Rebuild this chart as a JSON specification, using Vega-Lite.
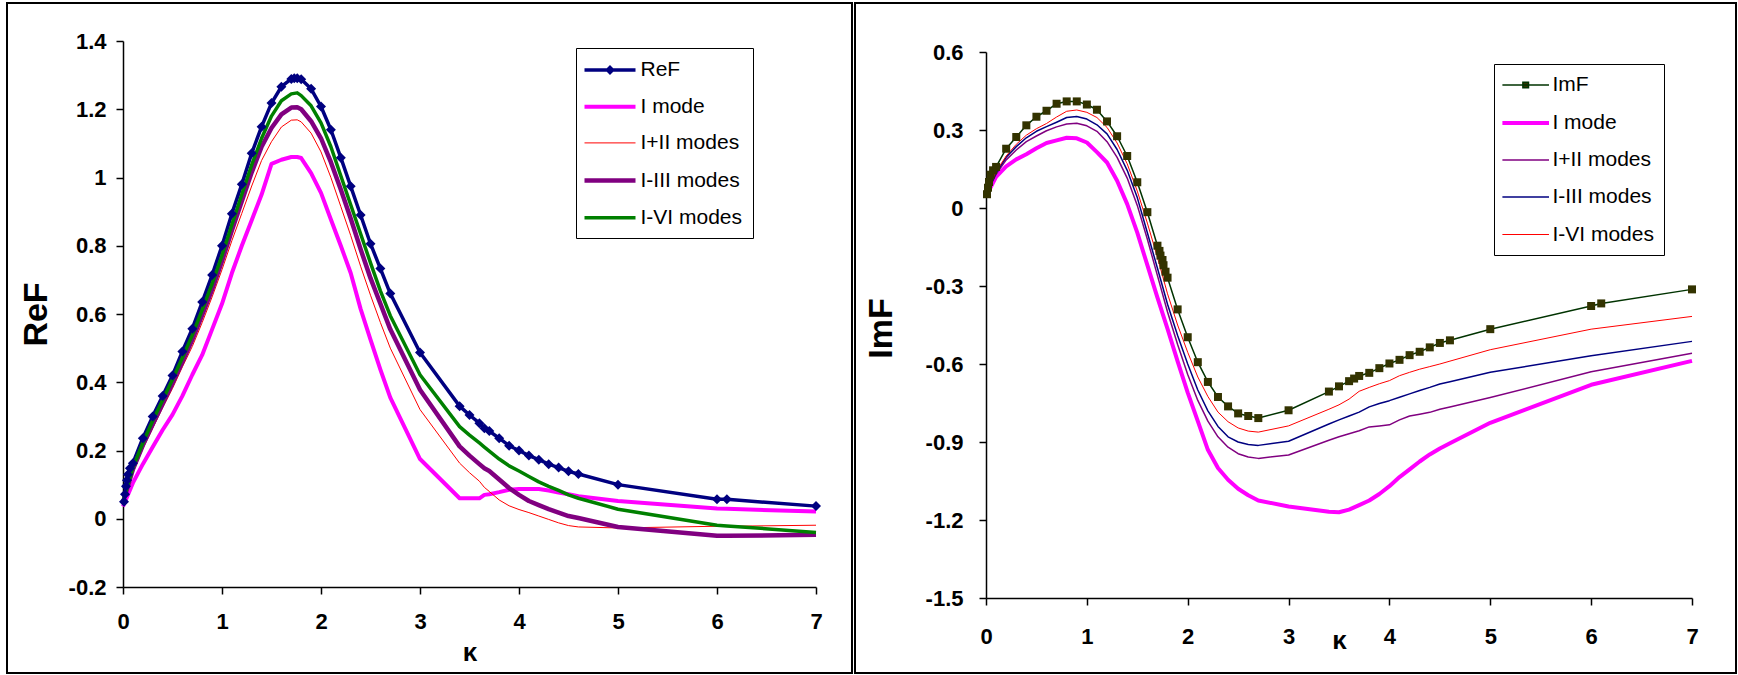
{
  "$schema": "https://vega.github.io/schema/vega-lite/v6.json",
  "background": "white",
  "padding": {"left": 6, "top": 2, "right": 1, "bottom": 1},
  "spacing": 1,
  "datasets": {
    "re": [
      {"s":"ReF","k":0.01,"v":0.05},{"s":"ReF","k":0.02,"v":0.072},{"s":"ReF","k":0.03,"v":0.095},{"s":"ReF","k":0.04,"v":0.113},{"s":"ReF","k":0.05,"v":0.13},{"s":"ReF","k":0.07,"v":0.148},{"s":"ReF","k":0.1,"v":0.163},{"s":"ReF","k":0.2,"v":0.236},{"s":"ReF","k":0.3,"v":0.3},{"s":"ReF","k":0.4,"v":0.36},{"s":"ReF","k":0.5,"v":0.42},{"s":"ReF","k":0.6,"v":0.49},{"s":"ReF","k":0.7,"v":0.557},{"s":"ReF","k":0.8,"v":0.635},{"s":"ReF","k":0.9,"v":0.714},{"s":"ReF","k":1,"v":0.8},{"s":"ReF","k":1.1,"v":0.894},{"s":"ReF","k":1.2,"v":0.98},{"s":"ReF","k":1.3,"v":1.071},{"s":"ReF","k":1.4,"v":1.149},{"s":"ReF","k":1.5,"v":1.218},{"s":"ReF","k":1.6,"v":1.266},{"s":"ReF","k":1.7,"v":1.289},{"s":"ReF","k":1.73,"v":1.291},{"s":"ReF","k":1.76,"v":1.291},{"s":"ReF","k":1.8,"v":1.288},{"s":"ReF","k":1.9,"v":1.26},{"s":"ReF","k":2,"v":1.208},{"s":"ReF","k":2.1,"v":1.14},{"s":"ReF","k":2.2,"v":1.058},{"s":"ReF","k":2.3,"v":0.974},{"s":"ReF","k":2.4,"v":0.89},{"s":"ReF","k":2.5,"v":0.806},{"s":"ReF","k":2.6,"v":0.733},{"s":"ReF","k":2.7,"v":0.66},{"s":"ReF","k":3,"v":0.487},{"s":"ReF","k":3.4,"v":0.33},{"s":"ReF","k":3.5,"v":0.304},{"s":"ReF","k":3.6,"v":0.28},{"s":"ReF","k":3.65,"v":0.265},{"s":"ReF","k":3.7,"v":0.257},{"s":"ReF","k":3.8,"v":0.236},{"s":"ReF","k":3.9,"v":0.214},{"s":"ReF","k":4,"v":0.2},{"s":"ReF","k":4.1,"v":0.185},{"s":"ReF","k":4.2,"v":0.173},{"s":"ReF","k":4.3,"v":0.16},{"s":"ReF","k":4.4,"v":0.15},{"s":"ReF","k":4.5,"v":0.139},{"s":"ReF","k":4.6,"v":0.131},{"s":"ReF","k":5,"v":0.1},{"s":"ReF","k":6,"v":0.057},{"s":"ReF","k":6.1,"v":0.057},{"s":"ReF","k":7,"v":0.037},
      {"s":"I mode","k":0,"v":0.036},{"s":"I mode","k":0.1,"v":0.105},{"s":"I mode","k":0.2,"v":0.16},{"s":"I mode","k":0.3,"v":0.21},{"s":"I mode","k":0.4,"v":0.26},{"s":"I mode","k":0.5,"v":0.305},{"s":"I mode","k":0.6,"v":0.36},{"s":"I mode","k":0.7,"v":0.422},{"s":"I mode","k":0.8,"v":0.48},{"s":"I mode","k":0.9,"v":0.555},{"s":"I mode","k":1,"v":0.63},{"s":"I mode","k":1.1,"v":0.72},{"s":"I mode","k":1.2,"v":0.8},{"s":"I mode","k":1.3,"v":0.875},{"s":"I mode","k":1.4,"v":0.95},{"s":"I mode","k":1.5,"v":1.04},{"s":"I mode","k":1.6,"v":1.052},{"s":"I mode","k":1.7,"v":1.06},{"s":"I mode","k":1.76,"v":1.06},{"s":"I mode","k":1.8,"v":1.057},{"s":"I mode","k":1.9,"v":1.013},{"s":"I mode","k":2,"v":0.955},{"s":"I mode","k":2.1,"v":0.877},{"s":"I mode","k":2.2,"v":0.8},{"s":"I mode","k":2.3,"v":0.72},{"s":"I mode","k":2.4,"v":0.615},{"s":"I mode","k":2.5,"v":0.525},{"s":"I mode","k":2.6,"v":0.437},{"s":"I mode","k":2.7,"v":0.355},{"s":"I mode","k":3,"v":0.175},{"s":"I mode","k":3.4,"v":0.06},{"s":"I mode","k":3.5,"v":0.06},{"s":"I mode","k":3.6,"v":0.06},{"s":"I mode","k":3.65,"v":0.07},{"s":"I mode","k":3.7,"v":0.072},{"s":"I mode","k":3.8,"v":0.078},{"s":"I mode","k":3.9,"v":0.085},{"s":"I mode","k":4,"v":0.087},{"s":"I mode","k":4.1,"v":0.087},{"s":"I mode","k":4.2,"v":0.087},{"s":"I mode","k":4.3,"v":0.083},{"s":"I mode","k":4.4,"v":0.077},{"s":"I mode","k":4.5,"v":0.072},{"s":"I mode","k":4.6,"v":0.066},{"s":"I mode","k":5,"v":0.052},{"s":"I mode","k":6,"v":0.03},{"s":"I mode","k":6.1,"v":0.029},{"s":"I mode","k":7,"v":0.021},
      {"s":"I+II modes","k":0,"v":0.042},{"s":"I+II modes","k":0.1,"v":0.135},{"s":"I+II modes","k":0.2,"v":0.205},{"s":"I+II modes","k":0.3,"v":0.265},{"s":"I+II modes","k":0.4,"v":0.325},{"s":"I+II modes","k":0.5,"v":0.382},{"s":"I+II modes","k":0.6,"v":0.445},{"s":"I+II modes","k":0.7,"v":0.505},{"s":"I+II modes","k":0.8,"v":0.575},{"s":"I+II modes","k":0.9,"v":0.65},{"s":"I+II modes","k":1,"v":0.73},{"s":"I+II modes","k":1.1,"v":0.815},{"s":"I+II modes","k":1.2,"v":0.895},{"s":"I+II modes","k":1.3,"v":0.975},{"s":"I+II modes","k":1.4,"v":1.05},{"s":"I+II modes","k":1.5,"v":1.105},{"s":"I+II modes","k":1.6,"v":1.148},{"s":"I+II modes","k":1.7,"v":1.168},{"s":"I+II modes","k":1.76,"v":1.169},{"s":"I+II modes","k":1.8,"v":1.163},{"s":"I+II modes","k":1.9,"v":1.13},{"s":"I+II modes","k":2,"v":1.075},{"s":"I+II modes","k":2.1,"v":1.0},{"s":"I+II modes","k":2.2,"v":0.915},{"s":"I+II modes","k":2.3,"v":0.83},{"s":"I+II modes","k":2.4,"v":0.74},{"s":"I+II modes","k":2.5,"v":0.655},{"s":"I+II modes","k":2.6,"v":0.575},{"s":"I+II modes","k":2.7,"v":0.5},{"s":"I+II modes","k":3,"v":0.32},{"s":"I+II modes","k":3.4,"v":0.163},{"s":"I+II modes","k":3.5,"v":0.135},{"s":"I+II modes","k":3.6,"v":0.11},{"s":"I+II modes","k":3.65,"v":0.092},{"s":"I+II modes","k":3.7,"v":0.08},{"s":"I+II modes","k":3.8,"v":0.055},{"s":"I+II modes","k":3.9,"v":0.038},{"s":"I+II modes","k":4,"v":0.027},{"s":"I+II modes","k":4.1,"v":0.018},{"s":"I+II modes","k":4.2,"v":0.008},{"s":"I+II modes","k":4.3,"v":-0.002},{"s":"I+II modes","k":4.4,"v":-0.012},{"s":"I+II modes","k":4.5,"v":-0.02},{"s":"I+II modes","k":4.6,"v":-0.024},{"s":"I+II modes","k":5,"v":-0.027},{"s":"I+II modes","k":6,"v":-0.022},{"s":"I+II modes","k":6.1,"v":-0.022},{"s":"I+II modes","k":7,"v":-0.019},
      {"s":"I-III modes","k":0,"v":0.048},{"s":"I-III modes","k":0.1,"v":0.145},{"s":"I-III modes","k":0.2,"v":0.215},{"s":"I-III modes","k":0.3,"v":0.277},{"s":"I-III modes","k":0.4,"v":0.337},{"s":"I-III modes","k":0.5,"v":0.397},{"s":"I-III modes","k":0.6,"v":0.46},{"s":"I-III modes","k":0.7,"v":0.525},{"s":"I-III modes","k":0.8,"v":0.597},{"s":"I-III modes","k":0.9,"v":0.672},{"s":"I-III modes","k":1,"v":0.755},{"s":"I-III modes","k":1.1,"v":0.845},{"s":"I-III modes","k":1.2,"v":0.93},{"s":"I-III modes","k":1.3,"v":1.015},{"s":"I-III modes","k":1.4,"v":1.09},{"s":"I-III modes","k":1.5,"v":1.145},{"s":"I-III modes","k":1.6,"v":1.185},{"s":"I-III modes","k":1.7,"v":1.205},{"s":"I-III modes","k":1.76,"v":1.206},{"s":"I-III modes","k":1.8,"v":1.2},{"s":"I-III modes","k":1.9,"v":1.165},{"s":"I-III modes","k":2,"v":1.115},{"s":"I-III modes","k":2.1,"v":1.045},{"s":"I-III modes","k":2.2,"v":0.965},{"s":"I-III modes","k":2.3,"v":0.88},{"s":"I-III modes","k":2.4,"v":0.79},{"s":"I-III modes","k":2.5,"v":0.705},{"s":"I-III modes","k":2.6,"v":0.63},{"s":"I-III modes","k":2.7,"v":0.555},{"s":"I-III modes","k":3,"v":0.378},{"s":"I-III modes","k":3.4,"v":0.212},{"s":"I-III modes","k":3.5,"v":0.185},{"s":"I-III modes","k":3.6,"v":0.16},{"s":"I-III modes","k":3.65,"v":0.148},{"s":"I-III modes","k":3.7,"v":0.14},{"s":"I-III modes","k":3.8,"v":0.115},{"s":"I-III modes","k":3.9,"v":0.09},{"s":"I-III modes","k":4,"v":0.07},{"s":"I-III modes","k":4.1,"v":0.052},{"s":"I-III modes","k":4.2,"v":0.04},{"s":"I-III modes","k":4.3,"v":0.028},{"s":"I-III modes","k":4.4,"v":0.018},{"s":"I-III modes","k":4.5,"v":0.008},{"s":"I-III modes","k":4.6,"v":0.002},{"s":"I-III modes","k":5,"v":-0.024},{"s":"I-III modes","k":6,"v":-0.05},{"s":"I-III modes","k":6.1,"v":-0.05},{"s":"I-III modes","k":7,"v":-0.047},
      {"s":"I-VI modes","k":0,"v":0.05},{"s":"I-VI modes","k":0.1,"v":0.15},{"s":"I-VI modes","k":0.2,"v":0.222},{"s":"I-VI modes","k":0.3,"v":0.287},{"s":"I-VI modes","k":0.4,"v":0.347},{"s":"I-VI modes","k":0.5,"v":0.408},{"s":"I-VI modes","k":0.6,"v":0.472},{"s":"I-VI modes","k":0.7,"v":0.538},{"s":"I-VI modes","k":0.8,"v":0.612},{"s":"I-VI modes","k":0.9,"v":0.688},{"s":"I-VI modes","k":1,"v":0.772},{"s":"I-VI modes","k":1.1,"v":0.862},{"s":"I-VI modes","k":1.2,"v":0.95},{"s":"I-VI modes","k":1.3,"v":1.037},{"s":"I-VI modes","k":1.4,"v":1.115},{"s":"I-VI modes","k":1.5,"v":1.18},{"s":"I-VI modes","k":1.6,"v":1.225},{"s":"I-VI modes","k":1.7,"v":1.245},{"s":"I-VI modes","k":1.76,"v":1.248},{"s":"I-VI modes","k":1.8,"v":1.24},{"s":"I-VI modes","k":1.9,"v":1.21},{"s":"I-VI modes","k":2,"v":1.16},{"s":"I-VI modes","k":2.1,"v":1.09},{"s":"I-VI modes","k":2.2,"v":1.005},{"s":"I-VI modes","k":2.3,"v":0.92},{"s":"I-VI modes","k":2.4,"v":0.835},{"s":"I-VI modes","k":2.5,"v":0.75},{"s":"I-VI modes","k":2.6,"v":0.668},{"s":"I-VI modes","k":2.7,"v":0.595},{"s":"I-VI modes","k":3,"v":0.422},{"s":"I-VI modes","k":3.4,"v":0.27},{"s":"I-VI modes","k":3.5,"v":0.245},{"s":"I-VI modes","k":3.6,"v":0.222},{"s":"I-VI modes","k":3.65,"v":0.21},{"s":"I-VI modes","k":3.7,"v":0.198},{"s":"I-VI modes","k":3.8,"v":0.175},{"s":"I-VI modes","k":3.9,"v":0.155},{"s":"I-VI modes","k":4,"v":0.14},{"s":"I-VI modes","k":4.1,"v":0.124},{"s":"I-VI modes","k":4.2,"v":0.108},{"s":"I-VI modes","k":4.3,"v":0.095},{"s":"I-VI modes","k":4.4,"v":0.083},{"s":"I-VI modes","k":4.5,"v":0.07},{"s":"I-VI modes","k":4.6,"v":0.06},{"s":"I-VI modes","k":5,"v":0.028},{"s":"I-VI modes","k":6,"v":-0.019},{"s":"I-VI modes","k":6.1,"v":-0.021},{"s":"I-VI modes","k":7,"v":-0.04}
    ],
    "im": [
      {"s":"ImF","k":0.01,"v":0.053},{"s":"ImF","k":0.02,"v":0.078},{"s":"ImF","k":0.03,"v":0.1},{"s":"ImF","k":0.045,"v":0.128},{"s":"ImF","k":0.07,"v":0.145},{"s":"ImF","k":0.1,"v":0.158},{"s":"ImF","k":0.2,"v":0.228},{"s":"ImF","k":0.3,"v":0.273},{"s":"ImF","k":0.4,"v":0.318},{"s":"ImF","k":0.5,"v":0.351},{"s":"ImF","k":0.6,"v":0.374},{"s":"ImF","k":0.7,"v":0.401},{"s":"ImF","k":0.8,"v":0.41},{"s":"ImF","k":0.9,"v":0.41},{"s":"ImF","k":1,"v":0.398},{"s":"ImF","k":1.1,"v":0.378},{"s":"ImF","k":1.2,"v":0.333},{"s":"ImF","k":1.3,"v":0.276},{"s":"ImF","k":1.4,"v":0.2},{"s":"ImF","k":1.5,"v":0.099},{"s":"ImF","k":1.6,"v":-0.016},{"s":"ImF","k":1.7,"v":-0.145},{"s":"ImF","k":1.72,"v":-0.165},{"s":"ImF","k":1.73,"v":-0.183},{"s":"ImF","k":1.75,"v":-0.2},{"s":"ImF","k":1.76,"v":-0.22},{"s":"ImF","k":1.78,"v":-0.245},{"s":"ImF","k":1.8,"v":-0.268},{"s":"ImF","k":1.9,"v":-0.39},{"s":"ImF","k":2,"v":-0.497},{"s":"ImF","k":2.1,"v":-0.593},{"s":"ImF","k":2.2,"v":-0.669},{"s":"ImF","k":2.3,"v":-0.727},{"s":"ImF","k":2.4,"v":-0.763},{"s":"ImF","k":2.5,"v":-0.79},{"s":"ImF","k":2.6,"v":-0.8},{"s":"ImF","k":2.7,"v":-0.808},{"s":"ImF","k":3,"v":-0.778},{"s":"ImF","k":3.4,"v":-0.706},{"s":"ImF","k":3.5,"v":-0.686},{"s":"ImF","k":3.6,"v":-0.666},{"s":"ImF","k":3.65,"v":-0.656},{"s":"ImF","k":3.7,"v":-0.646},{"s":"ImF","k":3.8,"v":-0.634},{"s":"ImF","k":3.9,"v":-0.616},{"s":"ImF","k":4,"v":-0.598},{"s":"ImF","k":4.1,"v":-0.584},{"s":"ImF","k":4.2,"v":-0.566},{"s":"ImF","k":4.3,"v":-0.553},{"s":"ImF","k":4.4,"v":-0.536},{"s":"ImF","k":4.5,"v":-0.519},{"s":"ImF","k":4.6,"v":-0.509},{"s":"ImF","k":5,"v":-0.466},{"s":"ImF","k":6,"v":-0.377},{"s":"ImF","k":6.1,"v":-0.367},{"s":"ImF","k":7,"v":-0.313},
      {"s":"I mode","k":0,"v":0.045},{"s":"I mode","k":0.1,"v":0.12},{"s":"I mode","k":0.2,"v":0.16},{"s":"I mode","k":0.3,"v":0.187},{"s":"I mode","k":0.4,"v":0.207},{"s":"I mode","k":0.5,"v":0.23},{"s":"I mode","k":0.6,"v":0.25},{"s":"I mode","k":0.7,"v":0.26},{"s":"I mode","k":0.8,"v":0.27},{"s":"I mode","k":0.9,"v":0.268},{"s":"I mode","k":1,"v":0.252},{"s":"I mode","k":1.1,"v":0.215},{"s":"I mode","k":1.2,"v":0.175},{"s":"I mode","k":1.3,"v":0.105},{"s":"I mode","k":1.4,"v":0.015},{"s":"I mode","k":1.5,"v":-0.095},{"s":"I mode","k":1.6,"v":-0.22},{"s":"I mode","k":1.7,"v":-0.345},{"s":"I mode","k":1.8,"v":-0.465},{"s":"I mode","k":1.9,"v":-0.59},{"s":"I mode","k":2,"v":-0.71},{"s":"I mode","k":2.1,"v":-0.82},{"s":"I mode","k":2.2,"v":-0.93},{"s":"I mode","k":2.3,"v":-1.0},{"s":"I mode","k":2.4,"v":-1.045},{"s":"I mode","k":2.5,"v":-1.08},{"s":"I mode","k":2.6,"v":-1.105},{"s":"I mode","k":2.7,"v":-1.125},{"s":"I mode","k":3,"v":-1.148},{"s":"I mode","k":3.4,"v":-1.168},{"s":"I mode","k":3.5,"v":-1.17},{"s":"I mode","k":3.6,"v":-1.16},{"s":"I mode","k":3.7,"v":-1.143},{"s":"I mode","k":3.8,"v":-1.125},{"s":"I mode","k":3.9,"v":-1.1},{"s":"I mode","k":4,"v":-1.07},{"s":"I mode","k":4.1,"v":-1.035},{"s":"I mode","k":4.2,"v":-1.005},{"s":"I mode","k":4.3,"v":-0.975},{"s":"I mode","k":4.4,"v":-0.948},{"s":"I mode","k":4.5,"v":-0.925},{"s":"I mode","k":4.6,"v":-0.905},{"s":"I mode","k":5,"v":-0.826},{"s":"I mode","k":6,"v":-0.68},{"s":"I mode","k":7,"v":-0.588},
      {"s":"I+II modes","k":0,"v":0.05},{"s":"I+II modes","k":0.1,"v":0.13},{"s":"I+II modes","k":0.2,"v":0.185},{"s":"I+II modes","k":0.3,"v":0.223},{"s":"I+II modes","k":0.4,"v":0.255},{"s":"I+II modes","k":0.5,"v":0.277},{"s":"I+II modes","k":0.6,"v":0.297},{"s":"I+II modes","k":0.7,"v":0.312},{"s":"I+II modes","k":0.8,"v":0.323},{"s":"I+II modes","k":0.9,"v":0.326},{"s":"I+II modes","k":1,"v":0.316},{"s":"I+II modes","k":1.1,"v":0.295},{"s":"I+II modes","k":1.2,"v":0.255},{"s":"I+II modes","k":1.3,"v":0.195},{"s":"I+II modes","k":1.4,"v":0.115},{"s":"I+II modes","k":1.5,"v":0.01},{"s":"I+II modes","k":1.6,"v":-0.12},{"s":"I+II modes","k":1.7,"v":-0.26},{"s":"I+II modes","k":1.8,"v":-0.4},{"s":"I+II modes","k":1.9,"v":-0.525},{"s":"I+II modes","k":2,"v":-0.64},{"s":"I+II modes","k":2.1,"v":-0.74},{"s":"I+II modes","k":2.2,"v":-0.82},{"s":"I+II modes","k":2.3,"v":-0.88},{"s":"I+II modes","k":2.4,"v":-0.92},{"s":"I+II modes","k":2.5,"v":-0.945},{"s":"I+II modes","k":2.6,"v":-0.958},{"s":"I+II modes","k":2.7,"v":-0.963},{"s":"I+II modes","k":3,"v":-0.95},{"s":"I+II modes","k":3.4,"v":-0.893},{"s":"I+II modes","k":3.5,"v":-0.88},{"s":"I+II modes","k":3.6,"v":-0.868},{"s":"I+II modes","k":3.7,"v":-0.857},{"s":"I+II modes","k":3.8,"v":-0.842},{"s":"I+II modes","k":3.9,"v":-0.838},{"s":"I+II modes","k":4,"v":-0.834},{"s":"I+II modes","k":4.1,"v":-0.815},{"s":"I+II modes","k":4.2,"v":-0.8},{"s":"I+II modes","k":4.3,"v":-0.793},{"s":"I+II modes","k":4.4,"v":-0.786},{"s":"I+II modes","k":4.5,"v":-0.774},{"s":"I+II modes","k":4.6,"v":-0.765},{"s":"I+II modes","k":5,"v":-0.729},{"s":"I+II modes","k":6,"v":-0.63},{"s":"I+II modes","k":7,"v":-0.559},
      {"s":"I-III modes","k":0,"v":0.05},{"s":"I-III modes","k":0.1,"v":0.135},{"s":"I-III modes","k":0.2,"v":0.195},{"s":"I-III modes","k":0.3,"v":0.236},{"s":"I-III modes","k":0.4,"v":0.27},{"s":"I-III modes","k":0.5,"v":0.295},{"s":"I-III modes","k":0.6,"v":0.313},{"s":"I-III modes","k":0.7,"v":0.33},{"s":"I-III modes","k":0.8,"v":0.348},{"s":"I-III modes","k":0.9,"v":0.352},{"s":"I-III modes","k":1,"v":0.342},{"s":"I-III modes","k":1.1,"v":0.32},{"s":"I-III modes","k":1.2,"v":0.285},{"s":"I-III modes","k":1.3,"v":0.225},{"s":"I-III modes","k":1.4,"v":0.145},{"s":"I-III modes","k":1.5,"v":0.04},{"s":"I-III modes","k":1.6,"v":-0.095},{"s":"I-III modes","k":1.7,"v":-0.232},{"s":"I-III modes","k":1.8,"v":-0.37},{"s":"I-III modes","k":1.9,"v":-0.49},{"s":"I-III modes","k":2,"v":-0.6},{"s":"I-III modes","k":2.1,"v":-0.7},{"s":"I-III modes","k":2.2,"v":-0.78},{"s":"I-III modes","k":2.3,"v":-0.84},{"s":"I-III modes","k":2.4,"v":-0.88},{"s":"I-III modes","k":2.5,"v":-0.9},{"s":"I-III modes","k":2.6,"v":-0.91},{"s":"I-III modes","k":2.7,"v":-0.913},{"s":"I-III modes","k":3,"v":-0.897},{"s":"I-III modes","k":3.4,"v":-0.831},{"s":"I-III modes","k":3.5,"v":-0.815},{"s":"I-III modes","k":3.6,"v":-0.8},{"s":"I-III modes","k":3.7,"v":-0.785},{"s":"I-III modes","k":3.8,"v":-0.765},{"s":"I-III modes","k":3.9,"v":-0.752},{"s":"I-III modes","k":4,"v":-0.741},{"s":"I-III modes","k":4.1,"v":-0.728},{"s":"I-III modes","k":4.2,"v":-0.715},{"s":"I-III modes","k":4.3,"v":-0.702},{"s":"I-III modes","k":4.4,"v":-0.69},{"s":"I-III modes","k":4.5,"v":-0.677},{"s":"I-III modes","k":4.6,"v":-0.668},{"s":"I-III modes","k":5,"v":-0.632},{"s":"I-III modes","k":6,"v":-0.568},{"s":"I-III modes","k":7,"v":-0.513},
      {"s":"I-VI modes","k":0,"v":0.05},{"s":"I-VI modes","k":0.1,"v":0.14},{"s":"I-VI modes","k":0.2,"v":0.2},{"s":"I-VI modes","k":0.3,"v":0.245},{"s":"I-VI modes","k":0.4,"v":0.28},{"s":"I-VI modes","k":0.5,"v":0.305},{"s":"I-VI modes","k":0.6,"v":0.325},{"s":"I-VI modes","k":0.7,"v":0.35},{"s":"I-VI modes","k":0.8,"v":0.372},{"s":"I-VI modes","k":0.9,"v":0.377},{"s":"I-VI modes","k":1,"v":0.368},{"s":"I-VI modes","k":1.1,"v":0.348},{"s":"I-VI modes","k":1.2,"v":0.31},{"s":"I-VI modes","k":1.3,"v":0.25},{"s":"I-VI modes","k":1.4,"v":0.17},{"s":"I-VI modes","k":1.5,"v":0.065},{"s":"I-VI modes","k":1.6,"v":-0.058},{"s":"I-VI modes","k":1.7,"v":-0.19},{"s":"I-VI modes","k":1.8,"v":-0.33},{"s":"I-VI modes","k":1.9,"v":-0.45},{"s":"I-VI modes","k":2,"v":-0.555},{"s":"I-VI modes","k":2.1,"v":-0.65},{"s":"I-VI modes","k":2.2,"v":-0.725},{"s":"I-VI modes","k":2.3,"v":-0.785},{"s":"I-VI modes","k":2.4,"v":-0.822},{"s":"I-VI modes","k":2.5,"v":-0.846},{"s":"I-VI modes","k":2.6,"v":-0.858},{"s":"I-VI modes","k":2.7,"v":-0.862},{"s":"I-VI modes","k":3,"v":-0.838},{"s":"I-VI modes","k":3.4,"v":-0.774},{"s":"I-VI modes","k":3.5,"v":-0.757},{"s":"I-VI modes","k":3.6,"v":-0.735},{"s":"I-VI modes","k":3.7,"v":-0.705},{"s":"I-VI modes","k":3.8,"v":-0.69},{"s":"I-VI modes","k":3.9,"v":-0.676},{"s":"I-VI modes","k":4,"v":-0.664},{"s":"I-VI modes","k":4.1,"v":-0.645},{"s":"I-VI modes","k":4.2,"v":-0.632},{"s":"I-VI modes","k":4.3,"v":-0.62},{"s":"I-VI modes","k":4.4,"v":-0.61},{"s":"I-VI modes","k":4.5,"v":-0.6},{"s":"I-VI modes","k":4.6,"v":-0.589},{"s":"I-VI modes","k":5,"v":-0.545},{"s":"I-VI modes","k":6,"v":-0.466},{"s":"I-VI modes","k":7,"v":-0.417}
    ]
  },
  "resolve": {
    "scale": {"x": "independent", "y": "independent", "color": "independent", "strokeWidth": "independent"},
    "legend": {"color": "independent"}
  },
  "hconcat": [
    {
      "width": 845,
      "height": 670,
      "data": {"name": "re"},
      "encoding": {
        "x": {
          "field": "k", "type": "quantitative",
          "scale": {"domain": [0, 7], "range": [116, 809], "nice": false, "zero": false},
          "axis": {"values": [0, 1, 2, 3, 4, 5, 6, 7], "offset": -86, "title": "κ", "titleFontSize": 26, "titleX": 462.5, "titleY": 73, "titleBaseline": "alphabetic", "titleAlign": "center", "labelPadding": 17, "labelFlush": false}
        },
        "y": {
          "field": "v", "type": "quantitative",
          "scale": {"domain": [-0.2, 1.4], "range": [584, 38], "nice": false, "zero": false},
          "axis": {"values": [-0.2, 0, 0.2, 0.4, 0.6, 0.8, 1, 1.2, 1.4], "offset": -116, "labelExpr": "'' + datum.value", "title": "ReF", "titleFontSize": 34, "titleX": -76.5, "titleY": 311, "titleAngle": 270, "titleBaseline": "alphabetic", "titleAlign": "center", "labelPadding": 10}
        }
      },
      "layer": [
        {
          "data": {"values": [{}]},
          "mark": {"type": "rule", "color": "#808080", "strokeWidth": 1.5},
          "encoding": {"x": {"datum": 0}, "x2": {"datum": 7}, "y": {"datum": 1.4}}
        },
        {
          "data": {"values": [{}]},
          "mark": {"type": "rule", "color": "#808080", "strokeWidth": 1.5},
          "encoding": {"x": {"datum": 7}, "y": {"datum": -0.2}, "y2": {"datum": 1.4}}
        },
        {
          "mark": {"type": "line", "strokeJoin": "round"},
          "encoding": {
            "color": {
              "field": "s", "type": "nominal",
              "scale": {"domain": ["ReF", "I mode", "I+II modes", "I-III modes", "I-VI modes"], "range": ["#000080", "#FF00FF", "#FF0000", "#800080", "#008000"]},
              "legend": {
                "title": null, "orient": "none", "legendX": 569, "legendY": 45, "symbolSize": 400,
                "padding": 10, "rowPadding": 14.7, "symbolOffset": 11.5, "labelOffset": 18,
                "encoding": {
                  "symbols": {
                    "shape": {"value": {"expr": "datum.value === 'ReF' ? 'M-2.55,0H2.55M0,-0.25L0.25,0L0,0.25L-0.25,0Z' : 'M-2.55,0H2.55'"}},
                    "strokeWidth": {"value": {"expr": "datum.value === 'I+II modes' ? 1 : datum.value === 'I mode' ? 4 : datum.value === 'I-III modes' ? 4.5 : 3.5"}},
                    "fill": {"value": "#000080"}
                  }
                }
              }
            },
            "strokeWidth": {
              "field": "s", "type": "nominal",
              "scale": {"type": "ordinal", "domain": ["ReF", "I mode", "I+II modes", "I-III modes", "I-VI modes"], "range": [3.5, 4, 1, 4.5, 3.5]},
              "legend": null
            }
          }
        },
        {
          "transform": [{"filter": "datum.s === 'ReF'"}],
          "mark": {"type": "point", "shape": "diamond", "filled": true, "size": 100, "color": "#000080", "opacity": 1, "strokeWidth": 0}
        }
      ]
    },
    {
      "width": 881,
      "height": 670,
      "data": {"name": "im"},
      "encoding": {
        "x": {
          "field": "k", "type": "quantitative",
          "scale": {"domain": [0, 7], "range": [131, 837], "nice": false, "zero": false},
          "axis": {"values": [0, 1, 2, 3, 4, 5, 6, 7], "offset": -75, "title": "κ", "titleFontSize": 26, "titleX": 484, "titleY": 50, "titleBaseline": "alphabetic", "titleAlign": "center", "labelPadding": 21, "labelFlush": false}
        },
        "y": {
          "field": "v", "type": "quantitative",
          "scale": {"domain": [-1.5, 0.6], "range": [595, 49], "nice": false, "zero": false},
          "axis": {"values": [-1.5, -1.2, -0.9, -0.6, -0.3, 0, 0.3, 0.6], "offset": -131, "labelExpr": "'' + datum.value", "title": "ImF", "titleFontSize": 34, "titleX": -95, "titleY": 325, "titleAngle": 270, "titleBaseline": "alphabetic", "titleAlign": "center", "labelPadding": 16}
        }
      },
      "layer": [
        {
          "data": {"values": [{}]},
          "mark": {"type": "rule", "color": "#808080", "strokeWidth": 1.5},
          "encoding": {"x": {"datum": 0}, "x2": {"datum": 7}, "y": {"datum": 0.6}}
        },
        {
          "data": {"values": [{}]},
          "mark": {"type": "rule", "color": "#808080", "strokeWidth": 1.5},
          "encoding": {"x": {"datum": 7}, "y": {"datum": -1.5}, "y2": {"datum": 0.6}}
        },
        {
          "mark": {"type": "line", "strokeJoin": "round"},
          "encoding": {
            "color": {
              "field": "s", "type": "nominal",
              "scale": {"domain": ["ImF", "I mode", "I+II modes", "I-III modes", "I-VI modes"], "range": ["#003300", "#FF00FF", "#800080", "#000080", "#FF0000"]},
              "legend": {
                "title": null, "orient": "none", "legendX": 639, "legendY": 61, "symbolSize": 400,
                "padding": 10, "rowPadding": 16, "symbolOffset": 9.7, "labelOffset": 14.7,
                "encoding": {
                  "symbols": {
                    "shape": {"value": {"expr": "datum.value === 'ImF' ? 'M-2.33,0H2.33M-0.28,-0.28H0.28V0.28H-0.28Z' : 'M-2.33,0H2.33'"}},
                    "strokeWidth": {"value": {"expr": "datum.value === 'I mode' ? 4 : datum.value === 'I-VI modes' ? 1 : 1.5"}},
                    "fill": {"value": "#333300"}
                  }
                }
              }
            },
            "strokeWidth": {
              "field": "s", "type": "nominal",
              "scale": {"type": "ordinal", "domain": ["ImF", "I mode", "I+II modes", "I-III modes", "I-VI modes"], "range": [1.5, 4, 1.5, 1.5, 1]},
              "legend": null
            }
          }
        },
        {
          "transform": [{"filter": "datum.s === 'ImF'"}],
          "mark": {"type": "point", "shape": "square", "filled": true, "size": 64, "color": "#333300", "opacity": 1, "strokeWidth": 0}
        }
      ]
    }
  ],
  "config": {
    "view": {"stroke": "#000000", "strokeWidth": 2},
    "font": "Liberation Sans",
    "axis": {
      "labelFont": "Liberation Sans", "labelFontSize": 22, "labelFontWeight": "bold", "labelColor": "#000000",
      "titleFont": "Liberation Sans", "titleFontWeight": "bold", "titleColor": "#000000",
      "domainColor": "#000000", "domainWidth": 1.5, "tickColor": "#000000", "tickWidth": 1.5, "tickSize": 7, "grid": false
    },
    "legend": {
      "labelFont": "Liberation Sans", "labelFontSize": 21, "labelColor": "#000000",
      "strokeColor": "#000000", "fillColor": "#ffffff"
    }
  }
}
